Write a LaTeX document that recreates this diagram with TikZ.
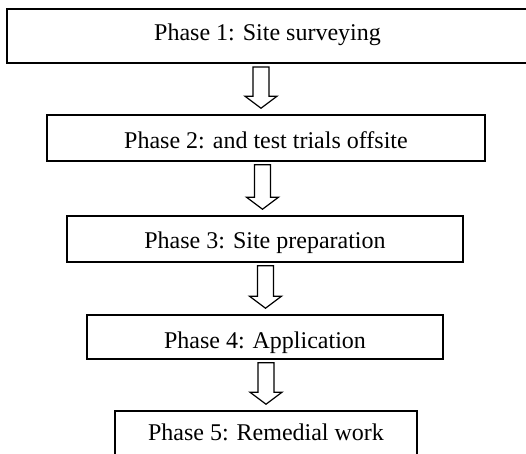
\documentclass[tikz,border=0pt]{standalone}
\usepackage{fontspec}
\setmainfont{Liberation Serif}
\usetikzlibrary{calc}

% hollow block arrow from node #1 down to node #2, shifted by #3
\newcommand{\phasearrow}[3]{%
  \draw[phase arrow]
    ($(#1.south -| #2.north)+({#3-8},3)$) --
    ($(#2.north)+({#3-8},-18)$) --
    ($(#2.north)+({#3-16},-18)$) --
    ($(#2.north)+(#3,-6)$) --
    ($(#2.north)+({#3+16},-18)$) --
    ($(#2.north)+({#3+8},-18)$) --
    ($(#1.south -| #2.north)+({#3+8},3)$) -- cycle;}

\begin{document}
\begin{tikzpicture}[x=0.5pt,y=-0.5pt,
  phase/.style={draw, rectangle, inner sep=0pt, line width=0.8pt,
    font=\fontsize{12}{14}\selectfont, text height=12pt},
  phase arrow/.style={line width=0.6pt, line join=miter}]
  \useasboundingbox (0,0) rectangle (526,454);

  \node[phase, line width=1pt, minimum width=260.5pt, minimum height=27pt, text depth=7pt]
    (site)   at (267.5,36) {Phase 1: Site surveying};
  \node[phase, minimum width=219pt, minimum height=23pt, text depth=1.5pt]
    (trials) at (266,138)  {Phase 2: and test trials offsite};
  \node[phase, minimum width=198pt, minimum height=23pt, text depth=2pt]
    (prep)   at (265,239)  {Phase 3: Site preparation};
  \node[phase, minimum width=178pt, minimum height=22pt, text depth=0.5pt]
    (apply)  at (265,337)  {Phase 4: Application};
  \node[phase, minimum width=151pt, minimum height=23pt, text depth=5pt]
    (remedy) at (266,434)  {Phase 5: Remedial work};

  \phasearrow{site}{trials}{-5}
  \phasearrow{trials}{prep}{-2.5}
  \phasearrow{prep}{apply}{0.5}
  \phasearrow{apply}{remedy}{0}

\end{tikzpicture}
\end{document}
